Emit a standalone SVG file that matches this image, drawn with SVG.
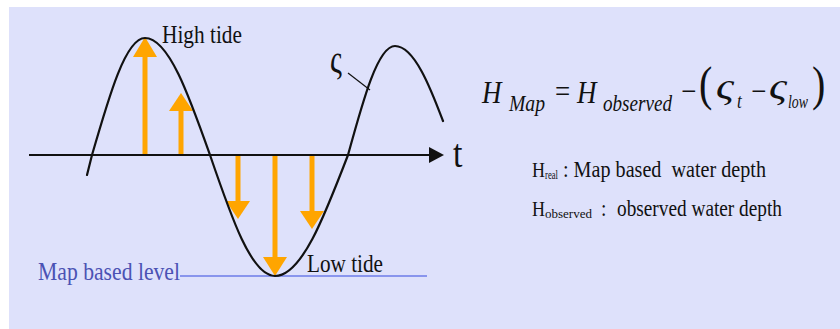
<svg xmlns="http://www.w3.org/2000/svg" width="840" height="329" viewBox="0 0 840 329">
<style>
.serif{font-family:"Liberation Serif","Times New Roman",serif;fill:#111}
.it{font-style:italic}
.wave{fill:none;stroke:#111;stroke-width:2.2;stroke-linecap:round}
.shaft{stroke:#ffa500;stroke-width:5}
.head{fill:#ffa500}
</style>
<rect x="0" y="0" width="840" height="329" fill="#ffffff"/>
<rect x="9" y="7" width="831" height="322" fill="#dee1fb"/>

<g id="arrows">
  <line class="shaft" x1="145" y1="155" x2="145" y2="56"/>
  <polygon class="head" points="145,37 133,57 157,57"/>
  <line class="shaft" x1="181" y1="155" x2="181" y2="110"/>
  <polygon class="head" points="181,93 169,111 193,111"/>
  <line class="shaft" x1="238" y1="155" x2="238" y2="202"/>
  <polygon class="head" points="238,219 226,201 250,201"/>
  <line class="shaft" x1="275" y1="155" x2="275" y2="258"/>
  <polygon class="head" points="275,276 263,257 287,257"/>
  <line class="shaft" x1="312" y1="155" x2="312" y2="212"/>
  <polygon class="head" points="312,229 300,211 324,211"/>
</g>

<g id="axis">
  <line x1="29" y1="155" x2="432" y2="155" stroke="#111" stroke-width="2"/>
  <polygon points="444,155 429,147 429,163" fill="#111"/>
  <text class="serif" transform="translate(453,167) scale(1,1.2)" font-size="34">t</text>
</g>

<g id="map-level">
  <line x1="180" y1="276" x2="427" y2="276" stroke="#6c7be8" stroke-width="1.6"/>
  <text class="serif" transform="translate(38,280) scale(1,1.2)" font-size="21.5" style="fill:#4b52b4" textLength="142" lengthAdjust="spacingAndGlyphs">Map based level</text>
</g>

<g id="wave">
  <path class="wave" d="M87,175 L92,155 C109.3,95.1 125.8,38 145,38 C168.6,38 188.8,95.1 210,155 C231.2,217 251.4,276 275,276 C301.5,276 324.2,217 348,155 C363.3,99.2 377.9,46 395,46 C415,46 432,92 443,121"/>
  <line x1="348" y1="73" x2="370" y2="90" stroke="#111" stroke-width="1.2"/>
  <text class="serif" transform="translate(330,73) scale(1,1.3)" font-size="30">ς</text>
</g>

<g id="labels">
  <text class="serif" transform="translate(162,43) scale(1,1.2)" font-size="21" textLength="80" lengthAdjust="spacingAndGlyphs">High tide</text>
  <text class="serif" transform="translate(307,272) scale(1,1.2)" font-size="21" textLength="76" lengthAdjust="spacingAndGlyphs">Low tide</text>
</g>

<g id="formula" class="serif" transform="translate(0,103) scale(1,1.2)">
  <text class="it" x="482" y="0" font-size="27">H</text>
  <text class="it" x="509" y="6.7" font-size="19" textLength="36" lengthAdjust="spacingAndGlyphs">Map</text>
  <text x="555" y="-1" font-size="27">=</text>
  <text class="it" x="577" y="0" font-size="27">H</text>
  <text class="it" x="603" y="6.7" font-size="19" textLength="69" lengthAdjust="spacingAndGlyphs">observed</text>
  <text x="681" y="-1" font-size="27">−</text>
  <text x="699" y="-2.5" font-size="40">(</text>
  <text class="it" x="716" y="-3" font-size="32" textLength="18" lengthAdjust="spacingAndGlyphs">ς</text>
  <text class="it" x="737" y="4.2" font-size="17">t</text>
  <text x="751" y="-1" font-size="27">−</text>
  <text class="it" x="769" y="-3" font-size="32" textLength="18" lengthAdjust="spacingAndGlyphs">ς</text>
  <text class="it" x="788" y="4.2" font-size="15" textLength="20" lengthAdjust="spacingAndGlyphs">low</text>
  <text x="812" y="-2.5" font-size="40">)</text>
</g>

<g id="legend-real" class="serif">
  <text transform="translate(0,177) scale(1,1.2)">
    <tspan x="532" y="0" font-size="18">H</tspan><tspan x="545" y="1.7" font-size="10" textLength="13" lengthAdjust="spacingAndGlyphs">real</tspan><tspan x="563" y="0" font-size="19.5" textLength="203" lengthAdjust="spacingAndGlyphs">: Map based&#160; water depth</tspan>
  </text>
</g>
<g id="legend-observed" class="serif">
  <text transform="translate(0,216) scale(1,1.2)">
    <tspan x="532" y="0" font-size="18">H</tspan><tspan x="545" y="1.7" font-size="11" textLength="47" lengthAdjust="spacingAndGlyphs">observed</tspan><tspan x="601" y="0" font-size="19.5">:</tspan><tspan x="617" y="0" font-size="19.5" textLength="165" lengthAdjust="spacingAndGlyphs">observed water depth</tspan>
  </text>
</g>
</svg>
